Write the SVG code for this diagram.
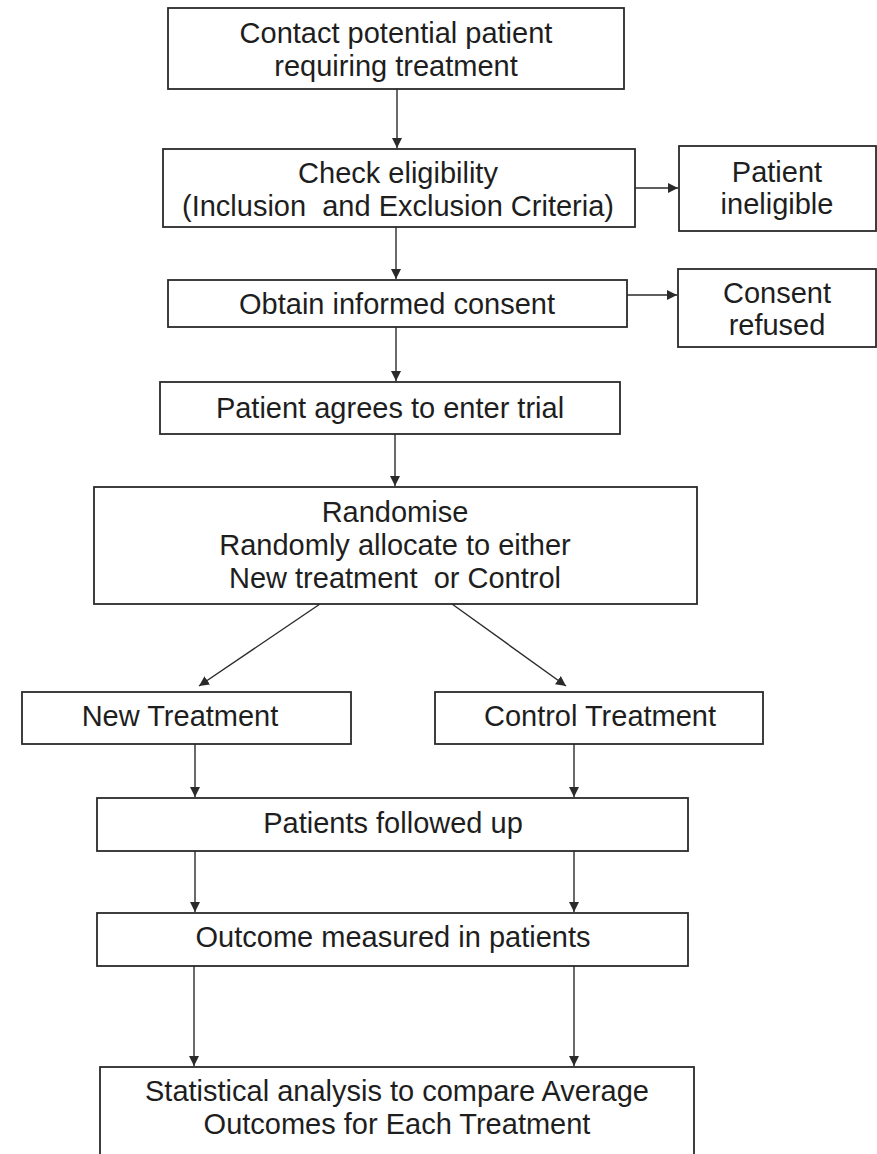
<svg xmlns="http://www.w3.org/2000/svg" width="877" height="1154" viewBox="0 0 877 1154">
<defs>
<style>
.box{fill:#fff;stroke:#2a2a2a;stroke-width:1.8}
.t{font-family:"Liberation Sans",Arial,sans-serif;font-size:29px;fill:#1e1e1e;text-anchor:middle}
.c{stroke:#2a2a2a;stroke-width:1.4;fill:none;marker-end:url(#ah)}
</style>
<marker id="ah" viewBox="0 0 10 10" refX="10" refY="5" markerUnits="userSpaceOnUse" markerWidth="10" markerHeight="11" orient="auto">
<path d="M0,0 L10,5 L0,10 z" fill="#2a2a2a"/>
</marker>
</defs>
<rect width="877" height="1154" fill="#fff"/>
<g id="connectors">
<line class="c" x1="397" y1="89" x2="397" y2="148"/>
<line class="c" x1="635" y1="188" x2="678" y2="188"/>
<line class="c" x1="396" y1="227" x2="396" y2="279"/>
<line class="c" x1="627" y1="295" x2="677" y2="295"/>
<line class="c" x1="396" y1="327" x2="396" y2="381"/>
<line class="c" x1="395" y1="434" x2="395" y2="486"/>
<line class="c" x1="320" y1="604" x2="199" y2="686"/>
<line class="c" x1="452" y1="604" x2="566" y2="686"/>
<line class="c" x1="195" y1="744" x2="195" y2="797"/>
<line class="c" x1="574" y1="744" x2="574" y2="797"/>
<line class="c" x1="195" y1="851" x2="195" y2="912"/>
<line class="c" x1="574" y1="851" x2="574" y2="912"/>
<line class="c" x1="194" y1="966" x2="194" y2="1066"/>
<line class="c" x1="574" y1="966" x2="574" y2="1066"/>
</g>
<g id="contact">
<rect class="box" x="168" y="8" width="456" height="81"/>
<text class="t" x="396" y="43">Contact potential patient</text>
<text class="t" x="396" y="76">requiring treatment</text>
</g>
<g id="eligibility">
<rect class="box" x="163" y="149" width="472" height="78"/>
<text class="t" x="398" y="183">Check eligibility</text>
<text class="t" x="398" y="216" xml:space="preserve">(Inclusion  and Exclusion Criteria)</text>
</g>
<g id="ineligible">
<rect class="box" x="679" y="146" width="197" height="85"/>
<text class="t" x="777" y="182">Patient</text>
<text class="t" x="777" y="214">ineligible</text>
</g>
<g id="consent">
<rect class="box" x="168" y="280" width="459" height="47"/>
<text class="t" x="397" y="314">Obtain informed consent</text>
</g>
<g id="refused">
<rect class="box" x="678" y="269" width="198" height="78"/>
<text class="t" x="777" y="303">Consent</text>
<text class="t" x="777" y="335">refused</text>
</g>
<g id="agrees">
<rect class="box" x="160" y="382" width="460" height="52"/>
<text class="t" x="390" y="418">Patient agrees to enter trial</text>
</g>
<g id="randomise">
<rect class="box" x="94" y="487" width="603" height="117"/>
<text class="t" x="395" y="522">Randomise</text>
<text class="t" x="395" y="555">Randomly allocate to either</text>
<text class="t" x="395" y="588" xml:space="preserve">New treatment  or Control</text>
</g>
<g id="newtreatment">
<rect class="box" x="22" y="692" width="329" height="52"/>
<text class="t" x="180" y="726">New Treatment</text>
</g>
<g id="control">
<rect class="box" x="435" y="692" width="328" height="52"/>
<text class="t" x="600" y="726">Control Treatment</text>
</g>
<g id="followed">
<rect class="box" x="97" y="798" width="591" height="53"/>
<text class="t" x="393" y="833">Patients followed up</text>
</g>
<g id="outcome">
<rect class="box" x="97" y="913" width="591" height="53"/>
<text class="t" x="393" y="947">Outcome measured in patients</text>
</g>
<g id="analysis">
<rect class="box" x="100" y="1067" width="594" height="100"/>
<text class="t" x="397" y="1101">Statistical analysis to compare Average</text>
<text class="t" x="397" y="1134">Outcomes for Each Treatment</text>
</g>
</svg>
